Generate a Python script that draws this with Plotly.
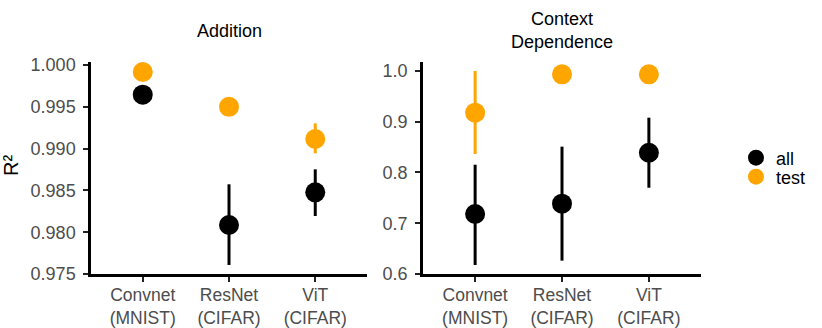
import plotly.graph_objects as go

W, H = 822, 328

modelos = ["Convnet<br>(MNIST)", "ResNet<br>(CIFAR)", "ViT<br>(CIFAR)"]

# Addition
add_all = [0.99645, 0.98086, 0.98477]
add_all_hi = [0.99645, 0.98573, 0.98752]
add_all_lo = [0.99645, 0.97608, 0.98194]
add_test = [0.99916, 0.99500, 0.99115]
add_test_hi = [0.99916, 0.99500, 0.99302]
add_test_lo = [0.99916, 0.99500, 0.98944]

# Context Dependence
ctx_all = [0.7182, 0.7386, 0.8390]
ctx_all_hi = [0.8153, 0.8509, 0.9080]
ctx_all_lo = [0.6177, 0.6263, 0.7700]
ctx_test = [0.9179, 0.9934, 0.9934]
ctx_test_hi = [1.0000, 0.9934, 0.9934]
ctx_test_lo = [0.8365, 0.9934, 0.9934]

negro = "#000000"
naranja = "#FFA500"
fuente = "Liberation Sans, Arial, sans-serif"


def px_x(p):
    return p / W


def px_y(p):
    return (H - p) / H


def serie(x, y, hi, lo, color, nombre, eje, leyenda):
    return go.Scatter(
        x=x, y=y, mode="markers", name=nombre, showlegend=leyenda is not None,
        legend=leyenda or "legend",
        xaxis="x" + eje, yaxis="y" + eje,
        marker=dict(color=color, size=20, line=dict(width=0)),
        error_y=dict(type="data", symmetric=False,
                     array=[h - v for h, v in zip(hi, y)],
                     arrayminus=[v - l for v, l in zip(y, lo)],
                     color=color, thickness=3, width=0),
    )


fig = go.Figure()
fig.add_trace(serie(modelos, add_all, add_all_hi, add_all_lo, negro, "all", "", "legend"))
fig.add_trace(serie(modelos, add_test, add_test_hi, add_test_lo, naranja, "test", "", "legend2"))
fig.add_trace(serie(modelos, ctx_all, ctx_all_hi, ctx_all_lo, negro, "all", "2", None))
fig.add_trace(serie(modelos, ctx_test, ctx_test_hi, ctx_test_lo, naranja, "test", "2", None))

ejes = dict(showline=True, linecolor="black", linewidth=2.5, showgrid=False, zeroline=False,
            ticks="outside", ticklen=5, tickwidth=2, tickcolor="#222222", automargin=False,
            tickfont=dict(family=fuente, size=18, color="#4D4D4D"))

fuente_x = dict(family=fuente, size=17.5, color="#4D4D4D")

leyenda = dict(xanchor="left", yanchor="middle", font=dict(size=18, color="black"),
               itemsizing="trace", bgcolor="rgba(0,0,0,0)")

fig.update_layout(
    width=W, height=H,
    margin=dict(l=0, r=0, t=0, b=0, autoexpand=False),
    plot_bgcolor="white", paper_bgcolor="white",
    font=dict(family=fuente, size=18, color="black"),
    xaxis=dict(ejes, domain=[px_x(91), px_x(367)], range=[-0.6, 2.6], anchor="y",
               ticklabelstandoff=-2, tickfont=fuente_x),
    yaxis=dict(ejes, domain=[px_y(274), px_y(62)], range=[0.975, 1.00036], anchor="x",
               tickvals=[0.975, 0.98, 0.985, 0.99, 0.995, 1.0], tickformat=".3f",
               ticklabelstandoff=4),
    xaxis2=dict(ejes, domain=[px_x(423), px_x(701)], range=[-0.6, 2.6], anchor="y2",
                ticklabelstandoff=-2, tickfont=fuente_x),
    yaxis2=dict(ejes, domain=[px_y(274), px_y(62)], range=[0.6, 1.0177], anchor="x2",
                tickvals=[0.6, 0.7, 0.8, 0.9, 1.0], tickformat=".1f",
                ticklabelstandoff=4),
    legend=dict(leyenda, x=px_x(736), y=px_y(158)),
    legend2=dict(leyenda, x=px_x(736), y=px_y(177)),
    annotations=[
        dict(text="Addition", x=px_x(229), y=px_y(31), xref="paper", yref="paper",
             showarrow=False, xanchor="center", yanchor="middle", font=dict(size=18)),
        dict(text="Context<br>Dependence", x=px_x(562), y=px_y(31), xref="paper", yref="paper",
             showarrow=False, xanchor="center", yanchor="middle", font=dict(size=18)),
        dict(text="R²", x=px_x(11), y=px_y(166), xref="paper", yref="paper", textangle=-90,
             showarrow=False, xanchor="center", yanchor="middle", font=dict(size=20)),
    ],
)

fig.write_html("out.html", config={"displayModeBar": False},
               post_script="document.body.style.margin='0';")
